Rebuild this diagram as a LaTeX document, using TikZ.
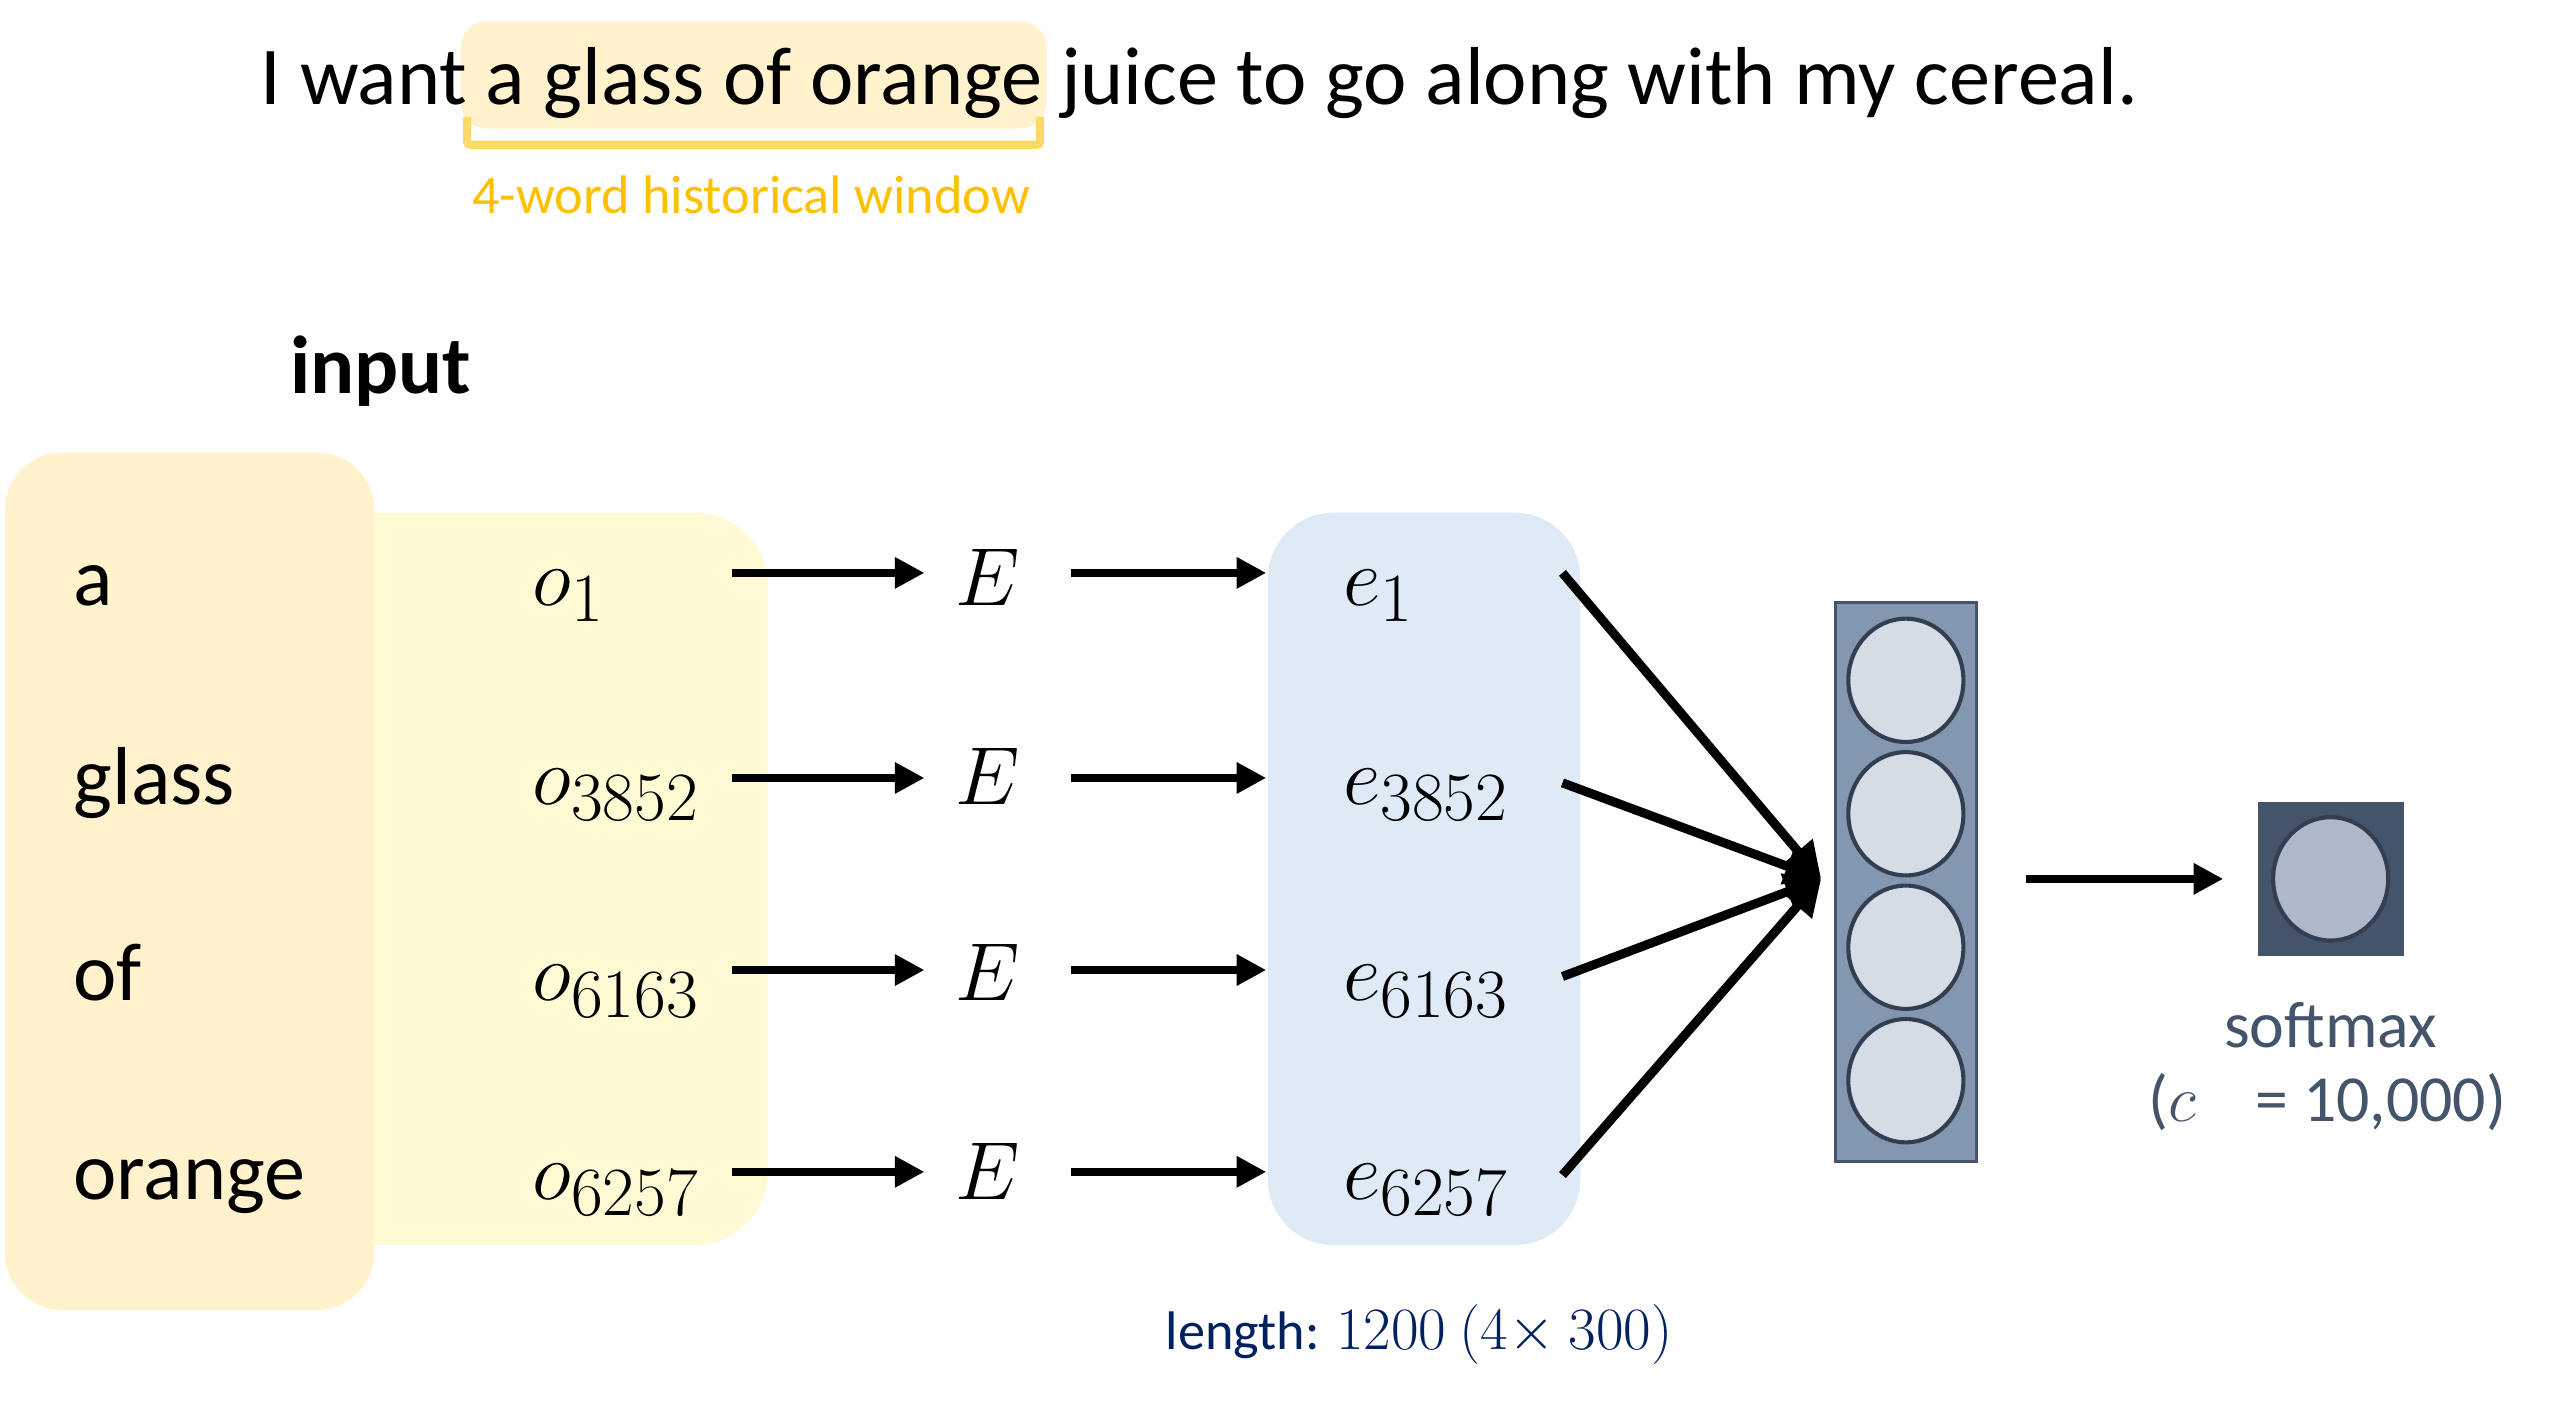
\RequirePackage{fix-cm}
\documentclass[tikz,border=0pt]{standalone}
\usepackage[no-math]{fontspec}
\setmainfont{Carlito}
\DeclareMathSizes{50}{50}{42}{30}
\usetikzlibrary{arrows.meta,shapes.geometric}
\definecolor{hlbg}{HTML}{FFF2CC}
\definecolor{hlbracket}{HTML}{FFD966}
\definecolor{wintext}{HTML}{FFC000}
\definecolor{ybox}{HTML}{FFFAD4}
\definecolor{bbox}{HTML}{DEEBF7}
\definecolor{layerfill}{HTML}{8497B0}
\definecolor{layerdraw}{HTML}{44546A}
\definecolor{unitfill}{HTML}{D6DCE5}
\definecolor{unitdraw}{HTML}{333F50}
\definecolor{smfill}{HTML}{44546A}
\definecolor{smunit}{HTML}{ADB9CA}
\definecolor{navy}{HTML}{002060}
\begin{document}
\begin{tikzpicture}[x=0.9898pt,y=-0.9898pt,
  big/.style={font=\fontsize{50}{60}\selectfont, inner sep=0pt, anchor=base west},
  small/.style={font=\fontsize{33}{40}\selectfont, inner sep=0pt},
  arr/.style={line width=5pt, -{Triangle[length=18pt,width=18pt]}},
  conv/.style={line width=5.5pt, -{Triangle[length=22pt,width=22pt]}},
  unit/.style={ellipse, minimum width=70pt, minimum height=75pt, inner sep=0pt, fill=unitfill, draw=unitdraw, line width=2.5pt}]
\useasboundingbox (0,0) rectangle (1568,861.4);

% top sentence
\fill[hlbg, rounded corners=16pt] (283,13) rectangle (643,79);
\draw[hlbracket, line width=5pt, rounded corners=2pt] (287,72) -- (287,89) -- (639,89) -- (639,72);
\node[big] (sent) at (160,64) {I want a glass of orange juice to go along with my cereal.};
\node[small, text=wintext, anchor=base west] (win) at (290,131) {4-word historical window};

% input
\node[big, font=\fontsize{50}{60}\selectfont\bfseries] (input) at (178,242) {input};

% boxes
\fill[ybox, rounded corners=45pt] (150,315) rectangle (472,765);
\fill[hlbg, rounded corners=35pt] (3,278) rectangle (230,805);
\fill[bbox, rounded corners=40pt] (779,315) rectangle (971,765);

% words
\node[big] (w1) at (45,372) {a};
\node[big] (w2) at (45,494) {glass};
\node[big] (w3) at (45,615) {of};
\node[big] (w4) at (45,737) {orange};

% one-hot
\node[big] (o1) at (327,372) {$o_{1}$};
\node[big] (o2) at (327,494) {$o_{3852}$};
\node[big] (o3) at (327,615) {$o_{6163}$};
\node[big] (o4) at (327,737) {$o_{6257}$};

% E
\node[big] (E1) at (587,372) {$E$};
\node[big] (E2) at (587,494) {$E$};
\node[big] (E3) at (587,615) {$E$};
\node[big] (E4) at (587,737) {$E$};

% embeddings
\node[big] (e1) at (825,372) {$e_{1}$};
\node[big] (e2) at (825,494) {$e_{3852}$};
\node[big] (e3) at (825,615) {$e_{6163}$};
\node[big] (e4) at (825,737) {$e_{6257}$};

% arrow coordinates
\foreach \i/\y in {1/352,2/478,3/596,4/720}{
  \coordinate (oa\i) at (450,\y);
  \coordinate (ob\i) at (568,\y);
  \coordinate (ea\i) at (658,\y);
  \coordinate (eb\i) at (778,\y);
}
\foreach \i in {1,...,4}{
  \draw[arr] (oa\i) -- (ob\i);
  \draw[arr] (ea\i) -- (eb\i);
}

% hidden layer
\node[draw=layerdraw, fill=layerfill, line width=2pt, minimum width=86pt, minimum height=340pt, inner sep=0pt] (layer) at (1171,542) {};
\node[unit] (u1) at (1171,418) {};
\node[unit] (u2) at (1171,500) {};
\node[unit] (u3) at (1171,582) {};
\node[unit] (u4) at (1171,664) {};

\coordinate (tip) at (1119,540);
\coordinate (s1) at (960,352);
\coordinate (s2) at (960,481);
\coordinate (s3) at (960,600);
\coordinate (s4) at (960,722);
\foreach \i in {1,...,4}{\draw[conv] (s\i) -- (tip);}

% softmax
\node[fill=smfill, minimum width=89pt, minimum height=94pt, inner sep=0pt] (sm) at (1432,540) {};
\node[unit, fill=smunit] (smu) at (1432,540) {};
\coordinate (ha) at (1245,540);
\coordinate (hb) at (1366,540);
\draw[arr] (ha) -- (hb);

\node[font=\fontsize{40}{48}\selectfont, text=smfill, inner sep=0pt] (smlab) at (1432,630) {softmax};
\node[font=\fontsize{40}{48}\selectfont, text=smfill, inner sep=0pt] (clab) at (1430,677) {($c$\hspace{0.9em}= 10,000)};

\node[small, text=navy] (len) at (872,820) {length: {\fontsize{36.5}{42}\selectfont$1200\ (4{\times}\ 300)$}};
\end{tikzpicture}
\end{document}
